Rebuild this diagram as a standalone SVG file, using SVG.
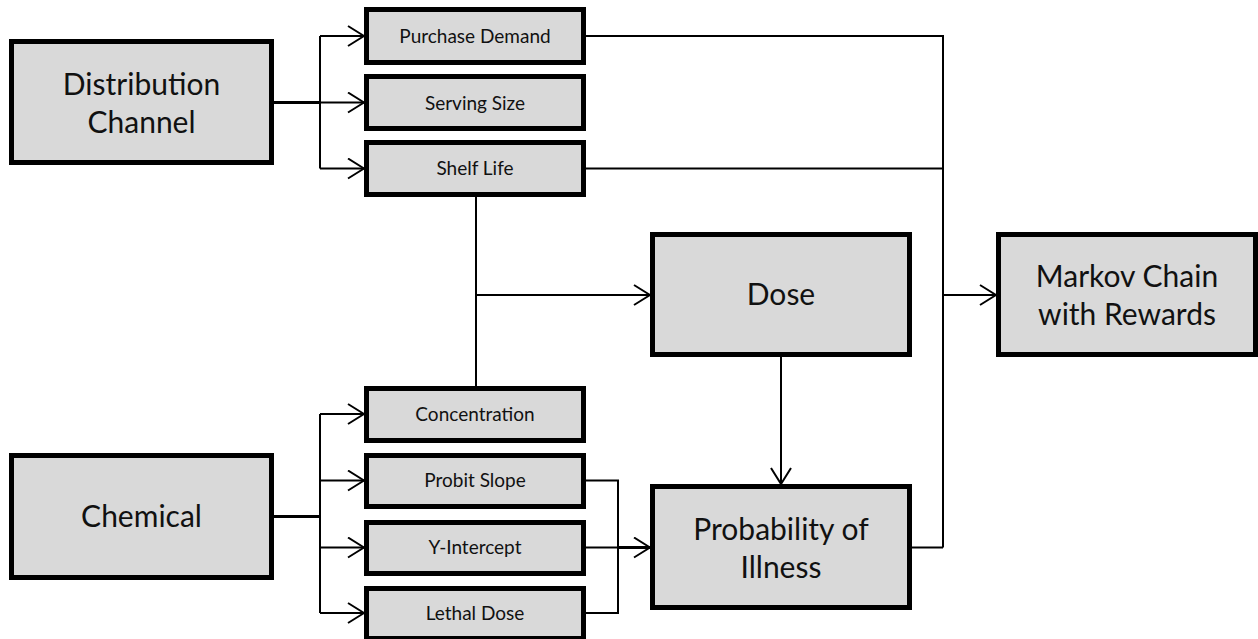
<svg xmlns="http://www.w3.org/2000/svg" width="1258" height="639" viewBox="0 0 1258 639">
<style>
.box{fill:#d9d9d9;stroke:#000;stroke-width:5}
.big{font-family:Lato,"Liberation Sans",sans-serif;font-size:30px;fill:#111;text-anchor:middle}
.sm{font-family:Lato,"Liberation Sans",sans-serif;font-size:19px;fill:#111;text-anchor:middle}
.ln{fill:none;stroke:#000;stroke-width:2}
.thk{fill:none;stroke:#000;stroke-width:3}
</style>
<defs>
<marker id="arr" viewBox="0 0 18 22" refX="17" refY="11" markerWidth="18" markerHeight="22" orient="auto" markerUnits="userSpaceOnUse">
<path d="M1,1 L17,11 L1,21" fill="none" stroke="#000" stroke-width="2"/>
</marker>
</defs>
<rect width="1258" height="639" fill="#fff"/>
<g id="connectors">
<path class="thk" d="M274,102.5 H320"/>
<path class="ln" d="M320,36 V168.5"/>
<path class="ln" d="M320,36 H364" marker-end="url(#arr)"/>
<path class="ln" d="M320,102.5 H364" marker-end="url(#arr)"/>
<path class="ln" d="M320,168.5 H364" marker-end="url(#arr)"/>
<path class="ln" d="M586,36 H943 V547.5"/>
<path class="ln" d="M912,547.5 H943"/>
<path class="ln" d="M586,168.5 H943"/>
<path class="ln" d="M943,295 H996" marker-end="url(#arr)"/>
<path class="ln" d="M476,197 V386"/>
<path class="ln" d="M476,295 H650" marker-end="url(#arr)"/>
<path class="ln" d="M781,357 V484" marker-end="url(#arr)"/>
<path class="thk" d="M274,516.5 H320"/>
<path class="ln" d="M320,414 V613"/>
<path class="ln" d="M320,414 H364" marker-end="url(#arr)"/>
<path class="ln" d="M320,480.5 H364" marker-end="url(#arr)"/>
<path class="ln" d="M320,547.5 H364" marker-end="url(#arr)"/>
<path class="ln" d="M320,613 H364" marker-end="url(#arr)"/>
<path class="ln" d="M586,480.5 H618 V613 H586"/>
<path class="ln" d="M586,547.5 H618"/>
<path class="thk" d="M618,547.5 H650" marker-end="url(#arr)"/>
</g>
<g id="distribution-channel">
<rect class="box" x="11.5" y="41.5" width="260" height="121"/>
<text class="big" x="141.5" y="95">Distribution</text>
<text class="big" x="141.5" y="133">Channel</text>
</g>
<g id="chemical">
<rect class="box" x="11.5" y="455.5" width="260" height="122"/>
<text class="big" x="141.5" y="527">Chemical</text>
</g>
<g id="purchase-demand">
<rect class="box" x="366.5" y="9.5" width="217" height="53"/>
<text class="sm" x="475" y="43">Purchase Demand</text>
</g>
<g id="serving-size">
<rect class="box" x="366.5" y="76.5" width="217" height="52"/>
<text class="sm" x="475" y="110">Serving Size</text>
</g>
<g id="shelf-life">
<rect class="box" x="366.5" y="142.5" width="217" height="52"/>
<text class="sm" x="475" y="175">Shelf Life</text>
</g>
<g id="concentration">
<rect class="box" x="366.5" y="388.5" width="217" height="52"/>
<text class="sm" x="475" y="421">Concentration</text>
</g>
<g id="probit-slope">
<rect class="box" x="366.5" y="455.5" width="217" height="51"/>
<text class="sm" x="475" y="487">Probit Slope</text>
</g>
<g id="y-intercept">
<rect class="box" x="366.5" y="522.5" width="217" height="51"/>
<text class="sm" x="475" y="554">Y-Intercept</text>
</g>
<g id="lethal-dose">
<rect class="box" x="366.5" y="588.5" width="217" height="50"/>
<text class="sm" x="475" y="620">Lethal Dose</text>
</g>
<g id="dose">
<rect class="box" x="652.5" y="234.5" width="257" height="120"/>
<text class="big" x="781" y="305">Dose</text>
</g>
<g id="probability-of-illness">
<rect class="box" x="652.5" y="486.5" width="257" height="121"/>
<text class="big" x="781" y="540">Probability of</text>
<text class="big" x="781" y="578">Illness</text>
</g>
<g id="markov-chain">
<rect class="box" x="998.5" y="234.5" width="257" height="120"/>
<text class="big" x="1127" y="287">Markov Chain</text>
<text class="big" x="1127" y="325">with Rewards</text>
</g>
</svg>
